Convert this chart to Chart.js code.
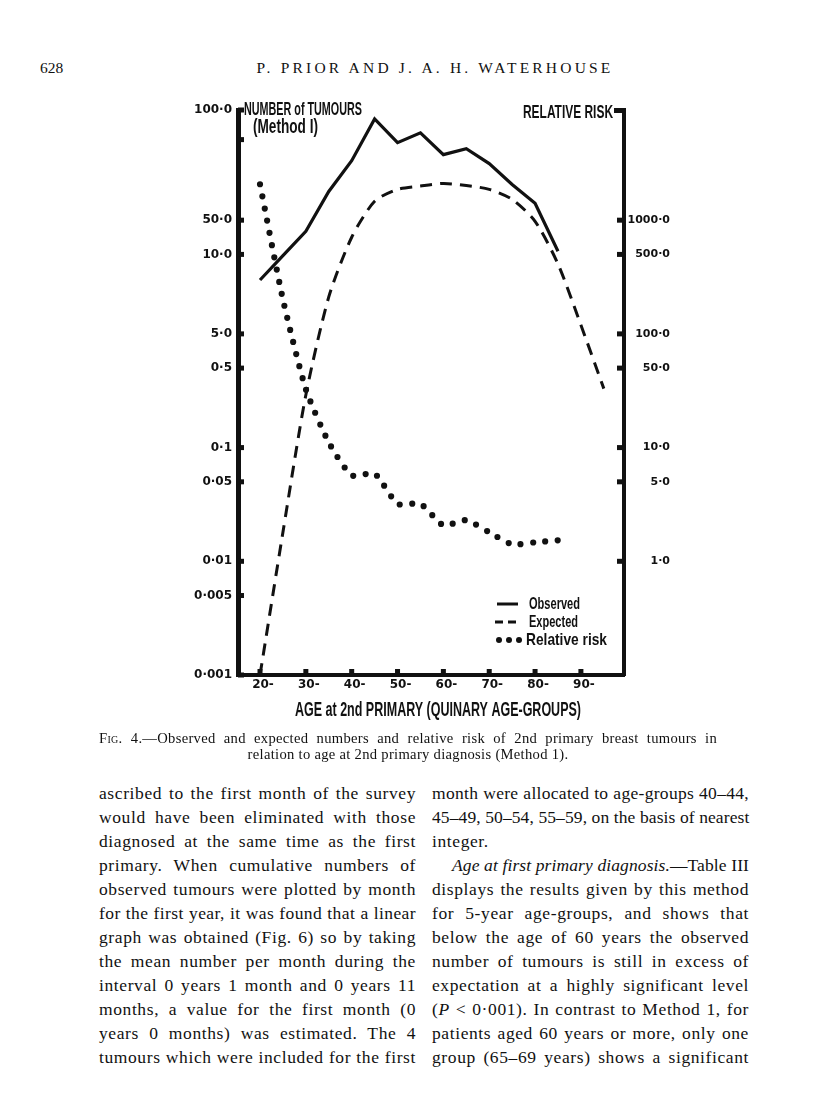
<!DOCTYPE html>
<html>
<head>
<meta charset="utf-8">
<script src="https://cdn.jsdelivr.net/npm/chart.js@4.4.1/dist/chart.umd.min.js"></script>
<style>
  body { margin: 0; background: #fff; }
  #page { position: relative; width: 816px; height: 1119px; overflow: hidden; color: #111;
          font-family: "Liberation Serif", "Times New Roman", serif; }
  #chart { position: absolute; left: 0; top: 0; }
  .hdr { position: absolute; top: 58px; font-size: 15.5px; line-height: 20px; }
  .cap { position: absolute; left: 99px; width: 618px; font-size: 14.6px; line-height: 16px; letter-spacing: 0.3px; }
  .col { position: absolute; top: 781px; width: 317px; font-size: 17.5px; line-height: 24px; }
  .col div { text-align: justify; text-align-last: justify; white-space: nowrap; }
  .col div.l { text-align-last: left; }
  .col div.ind { padding-left: 20px; }
</style>
</head>
<body>
<div id="page">
  <div class="hdr" style="left:40px;">628</div>
  <div class="hdr" style="left:235px;width:400px;text-align:center;letter-spacing:3.2px;">P. PRIOR AND J. A. H. WATERHOUSE</div>

  <canvas id="chart" width="816" height="740"></canvas>

  <div class="cap" style="top:730px;text-align:justify;text-align-last:justify;white-space:nowrap;"><span style="font-variant:small-caps;">Fig.</span> 4.—Observed and expected numbers and relative risk of 2nd primary breast tumours in</div>
  <div class="cap" style="top:746px;text-align:center;">relation to age at 2nd primary diagnosis (Method 1).</div>

  <div class="col" style="left:99px;">
    <div>ascribed to the first month of the survey</div>
    <div>would have been eliminated with those</div>
    <div>diagnosed at the same time as the first</div>
    <div>primary. When cumulative numbers of</div>
    <div>observed tumours were plotted by month</div>
    <div>for the first year, it was found that a linear</div>
    <div>graph was obtained (Fig. 6) so by taking</div>
    <div>the mean number per month during the</div>
    <div>interval 0 years 1 month and 0 years 11</div>
    <div>months, a value for the first month (0</div>
    <div>years 0 months) was estimated. The 4</div>
    <div>tumours which were included for the first</div>
  </div>
  <div class="col" style="left:432px;">
    <div>month were allocated to age-groups 40–44,</div>
    <div>45–49, 50–54, 55–59, on the basis of nearest</div>
    <div class="l">integer.</div>
    <div class="ind"><i>Age at first primary diagnosis.</i>—Table III</div>
    <div>displays the results given by this method</div>
    <div>for 5-year age-groups, and shows that</div>
    <div>below the age of 60 years the observed</div>
    <div>number of tumours is still in excess of</div>
    <div>expectation at a highly significant level</div>
    <div>(<i>P</i> &lt; 0·001). In contrast to Method 1, for</div>
    <div>patients aged 60 years or more, only one</div>
    <div>group (65–69 years) shows a significant</div>
  </div>
</div>

<script>
// quinary age groups (start of group)
var ages = [20, 25, 30, 35, 40, 45, 50, 55, 60, 65, 70, 75, 80, 85, 90, 95];
// number of tumours
var observed = [8.0, 9.9, 29.6, 59.9, 72.7, 94.5, 81.4, 86.6, 75.5, 78.4, 71.4, 62.6, 55.6, 11.6, null, null];
var expected = [0.001, 0.018, 0.29, 6.9, 22.4, 56.3, 60.7, 62.0, 63.0, 62.2, 60.7, 57.0, 47.4, 9.2, 5.4, 0.33];
// relative risk
var relRisk = [2070, 201, 32.6, 11.1, 5.7, 5.9, 3.2, 3.2, 2.07, 2.3, 1.8, 1.41, 1.47, 1.53, null, null];

var leftTicks = [0.001, 0.005, 0.01, 0.05, 0.1, 0.5, 5, 10, 50, 100];
var leftLabels = ['0·001', '0·005', '0·01', '0·05', '0·1', '0·5', '5·0', '10·0', '50·0', '100·0'];
var leftMinor = [83];
var rightTicks = [1, 5, 10, 50, 100, 500, 1000];
var rightLabels = ['1·0', '5·0', '10·0', '50·0', '100·0', '500·0', '1000·0'];
var xTicks = [20, 30, 40, 50, 60, 70, 80, 90];
var xLabels = ['20-', '30-', '40-', '50-', '60-', '70-', '80-', '90-'];

// the left axis of the figure is broken: where each of its ticks sits,
// in decades of the (true log) right axis
var leftPos = [-1, -0.301, 0, 0.699, 1, 1.699, 2, 2.699, 3, 3.969];
var axisMin = -1, axisMax = 3.969;

function toLeftPos(v) {
  if (v == null) return null;
  var lv = Math.log10(v);
  for (var i = 0; i < leftTicks.length - 1; i++) {
    var a = Math.log10(leftTicks[i]), b = Math.log10(leftTicks[i + 1]);
    if (lv <= b || i == leftTicks.length - 2) {
      return leftPos[i] + (lv - a) / (b - a) * (leftPos[i + 1] - leftPos[i]);
    }
  }
}

function pts(vals, f) {
  var out = [];
  for (var i = 0; i < ages.length; i++) {
    if (vals[i] == null) continue;
    out.push({ x: ages[i], y: f ? f(vals[i]) : vals[i] });
  }
  return out;
}

var ink = '#111';

function squeeze(ctx, text, x, y, size, width, align) {
  ctx.save();
  ctx.font = 'bold ' + size + 'px "Liberation Sans", Arial, sans-serif';
  var w = ctx.measureText(text).width;
  var k = width / w;
  ctx.textBaseline = 'middle';
  ctx.textAlign = 'left';
  ctx.translate(align == 'right' ? x - width : x, y);
  ctx.scale(k, 1);
  ctx.fillText(text, 0, 0);
  ctx.restore();
}

var decor = {
  id: 'decor',
  afterDraw: function (chart) {
    var ctx = chart.ctx;
    var sx = chart.scales.x, sy = chart.scales.y, sr = chart.scales.y1;
    var area = chart.chartArea;
    ctx.save();
    ctx.fillStyle = ink;

    // tick marks point inwards
    sy.ticks.forEach(function (t) {
      var py = sy.getPixelForValue(t.value);
      ctx.fillRect(area.left, py - 2.5, 6, 5);
    });
    leftMinor.forEach(function (v) {
      var py = sy.getPixelForValue(toLeftPos(v));
      ctx.fillRect(area.left, py - 2.5, 6, 5);
    });
    sr.ticks.forEach(function (t) {
      var py = sr.getPixelForValue(t.value);
      ctx.fillRect(area.right - 7, py - 2.5, 7, 5);
    });
    ctx.fillRect(area.right - 10, area.top - 2, 10, 5);
    sx.ticks.forEach(function (t) {
      var px = sx.getPixelForValue(t.value);
      ctx.fillRect(px - 2.5, area.bottom - 6, 5, 6);
    });

    // axis titles
    squeeze(ctx, 'NUMBER of TUMOURS', 244, 110, 19, 118);
    squeeze(ctx, '(Method I)', 253, 127, 20, 65);
    squeeze(ctx, 'RELATIVE RISK', 613, 113, 19, 90, 'right');
    squeeze(ctx, 'AGE at 2nd PRIMARY (QUINARY AGE-GROUPS)', 295, 710, 20, 286);

    // key
    var ds = chart.data.datasets;
    ctx.strokeStyle = ink;
    ctx.lineWidth = 3;
    ctx.beginPath(); ctx.moveTo(497, 604); ctx.lineTo(518, 604); ctx.stroke();
    ctx.setLineDash([8, 5]);
    ctx.beginPath(); ctx.moveTo(495, 622); ctx.lineTo(518, 622); ctx.stroke();
    ctx.setLineDash([]);
    [499, 509, 519].forEach(function (px) {
      ctx.beginPath(); ctx.arc(px, 640, 3, 0, Math.PI * 2); ctx.fill();
    });
    squeeze(ctx, ds[0].label, 529, 604, 17, 51);
    squeeze(ctx, ds[1].label, 529, 622, 17, 49);
    squeeze(ctx, ds[2].label, 526, 640, 17, 81);
    ctx.restore();
  }
};

new Chart(document.getElementById('chart'), {
  type: 'line',
  data: {
    datasets: [
      {
        label: 'Observed',
        data: pts(observed, toLeftPos),
        yAxisID: 'y',
        borderColor: ink,
        borderWidth: 3.2,
        pointRadius: 0,
        tension: 0
      },
      {
        label: 'Expected',
        data: pts(expected, toLeftPos),
        yAxisID: 'y',
        borderColor: ink,
        borderWidth: 3,
        borderDash: [12, 8],
        pointRadius: 0,
        tension: 0.25
      },
      {
        label: 'Relative risk',
        data: pts(relRisk),
        yAxisID: 'y1',
        borderColor: ink,
        borderWidth: 6.2,
        borderDash: [0, 12.4],
        borderCapStyle: 'round',
        pointRadius: 0,
        tension: 0.2
      }
    ]
  },
  options: {
    responsive: false,
    animation: false,
    layout: { padding: { top: 110, left: 0, right: 146, bottom: 0 } },
    plugins: { legend: { display: false }, tooltip: { enabled: false } },
    scales: {
      x: {
        type: 'linear',
        min: 15.2,
        max: 99.4,
        afterBuildTicks: function (s) { s.ticks = xTicks.map(function (v) { return { value: v }; }); },
        ticks: {
          callback: function (v, i) { return xLabels[i]; },
          color: ink,
          font: { family: '"DejaVu Sans", sans-serif', size: 12, weight: 'bold' },
          padding: 3,
          labelOffset: 3,
          maxRotation: 0,
          autoSkip: false
        },
        grid: { display: false, drawTicks: false },
        border: { display: true, width: 4, color: ink },
        afterFit: function (s) { s.height = 65; s.paddingLeft = 0; s.paddingRight = 0; }
      },
      y: {
        type: 'linear',
        position: 'left',
        min: axisMin,
        max: axisMax,
        afterBuildTicks: function (s) { s.ticks = leftPos.map(function (v) { return { value: v }; }); },
        ticks: {
          callback: function (v, i) { return leftLabels[i]; },
          color: ink,
          font: { family: '"DejaVu Sans", sans-serif', size: 12, weight: 'bold' },
          padding: 6,
          autoSkip: false
        },
        grid: { display: false, drawTicks: false },
        border: { display: true, width: 5, color: ink },
        afterFit: function (s) { s.width = 238; s.paddingTop = 0; s.paddingBottom = 0; }
      },
      y1: {
        type: 'logarithmic',
        position: 'right',
        min: Math.pow(10, axisMin),
        max: Math.pow(10, axisMax),
        afterBuildTicks: function (s) { s.ticks = rightTicks.map(function (v) { return { value: v }; }); },
        ticks: {
          callback: function (v, i) { return rightLabels[i]; },
          color: ink,
          font: { family: '"DejaVu Sans", sans-serif', size: 11, weight: 'bold' },
          crossAlign: 'far',
          autoSkip: false
        },
        grid: { display: false, drawTicks: false },
        border: { display: true, width: 4, color: ink },
        afterFit: function (s) { s.width = 46; s.paddingTop = 0; s.paddingBottom = 0; }
      }
    }
  },
  plugins: [decor]
});

// widen the body type a little, but never past the column edge
document.querySelectorAll('.col div').forEach(function (d) {
  var ls = 0.6;
  d.style.letterSpacing = ls + 'px';
  while (d.scrollWidth > d.clientWidth + 0.5 && ls > -0.5) {
    ls -= 0.1;
    d.style.letterSpacing = ls.toFixed(1) + 'px';
  }
});
</script>
</body>
</html>
